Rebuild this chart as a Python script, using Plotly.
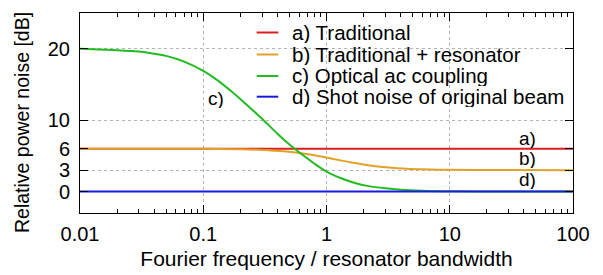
import math
import plotly.graph_objects as go

# ---- data ----
red_f = [0.01, 100]
red_db = [6.0, 6.0]

orange_f = [0.01, 0.1, 0.2, 0.3, 0.45, 0.6, 0.8, 1.0, 1.3, 1.6, 2.0, 2.5, 3.2, 4.5, 6.0, 10, 20, 100]
orange_db = [6.0, 5.99, 5.93, 5.83, 5.63, 5.39, 5.07, 4.76, 4.37, 4.07, 3.79, 3.56, 3.37, 3.2, 3.12, 3.04, 3.01, 3.0]

green_f = [0.01, 0.02, 0.03, 0.04, 0.05, 0.07, 0.1, 0.13, 0.17, 0.22, 0.3, 0.4, 0.5,
           0.6, 0.8, 1.0, 1.3, 1.7, 2.2, 3.0, 4.0, 6.0, 10, 30, 100]
green_db = [20.0, 19.8, 19.6, 19.3, 19.0, 18.2, 16.9, 15.6, 14.0, 12.3, 10.2, 8.1, 6.6,
            5.5, 3.9, 2.8, 1.9, 1.2, 0.76, 0.45, 0.25, 0.11, 0.04, 0.01, 0.0]

blue_f = [0.01, 100]
blue_db = [0.0, 0.0]

series_names = ["a) Traditional", "b) Traditional + resonator",
                "c) Optical ac coupling", "d) Shot noise of original beam"]
series_colors = ["#dd1c1c", "#e2a229", "#22bb22", "#1a1adf"]

x_tickvals = [0.01, 0.1, 1, 10, 100]
x_ticktext = ["0.01", "0.1", "1", "10", "100"]
x_minor = [m * 10 ** k for k in (-2, -1, 0, 1) for m in range(2, 10)]
y_tickvals = [0, 3, 6, 10, 20]

curve_labels = ["a)", "b)", "d)", "c)"]
curve_label_x = [42.4, 42.4, 42.4, 0.127]
curve_label_y = [7.55, 4.75, 1.7, 13.1]

x_title = "Fourier frequency / resonator bandwidth"
y_title = "Relative power noise [dB]"

FONT = "Liberation Sans, Arial, Helvetica, sans-serif"

fig = go.Figure()
data = [(red_f, red_db), (orange_f, orange_db), (green_f, green_db), (blue_f, blue_db)]
for (fx, fy), name, col in zip(data, series_names, series_colors):
    fig.add_trace(go.Scatter(x=fx, y=fy, mode="lines", name=name,
                             line=dict(color=col, width=2, shape="spline", smoothing=0.8),
                             showlegend=False))

# curve labels
for t, lx, ly in zip(curve_labels, curve_label_x, curve_label_y):
    fig.add_annotation(x=math.log10(lx), y=ly, text=t, showarrow=False,
                       xref="x", yref="y", height=20, borderpad=0,
                       font=dict(size=19, color="black", family=FONT))

# compact legend like the original
fig.add_shape(type="rect", xref="paper", yref="paper", x0=0.3306, x1=0.998, y0=0.54, y1=0.975,
              fillcolor="white", line=dict(width=0), layer="between")
row_y = [0.9025, 0.7925, 0.685, 0.5815]
for name, col, ry in zip(series_names, series_colors, row_y):
    fig.add_shape(type="line", xref="paper", yref="paper", x0=0.3584, x1=0.4022, y0=ry, y1=ry,
                  line=dict(color=col, width=2))
    fig.add_annotation(x=0.4274, y=ry, xref="paper", yref="paper", text=name, showarrow=False,
                       xanchor="left", yanchor="middle", borderpad=0, height=21,
                       font=dict(size=20.5, color="black", family=FONT))

# y-axis title placed like the original
fig.add_annotation(x=-0.1176, y=0.45, xref="paper", yref="paper", text=y_title,
                   showarrow=False, textangle=-90, xanchor="center", yanchor="middle",
                   font=dict(size=19.5, color="black", family=FONT))

fig.update_xaxes(type="log", range=[-2, 2], tickvals=x_tickvals, ticktext=x_ticktext,
                 automargin=False, ticklabelstandoff=3,
                 ticks="inside", ticklen=8, tickwidth=1, tickcolor="black",
                 showline=True, linecolor="black", linewidth=1, mirror="ticks",
                 showgrid=True, gridcolor="#b4b4b4", griddash="dot", gridwidth=1,
                 zeroline=False,
                 minor=dict(tickvals=x_minor, ticks="inside", ticklen=4, tickcolor="black",
                            showgrid=False),
                 tickfont=dict(size=20, color="black", family=FONT),
                 title=dict(text=x_title,
                            font=dict(size=21, color="black", family=FONT), standoff=7))
fig.update_yaxes(range=[-3, 25], tickvals=y_tickvals, automargin=False, ticklabelstandoff=5,
                 ticks="inside", ticklen=8, tickwidth=1, tickcolor="black",
                 showline=True, linecolor="black", linewidth=1, mirror="ticks",
                 showgrid=True, gridcolor="#b4b4b4", griddash="dot", gridwidth=1,
                 zeroline=False,
                 tickfont=dict(size=20, color="black", family=FONT))

# page body has an 8px margin: shrink the figure so the plot area lands where the original's is
fig.update_layout(width=595, height=267, margin=dict(l=72, r=30, t=5, b=62),
                  paper_bgcolor="white", plot_bgcolor="white",
                  font=dict(family=FONT, color="black"))

fig.write_html("out.html")
